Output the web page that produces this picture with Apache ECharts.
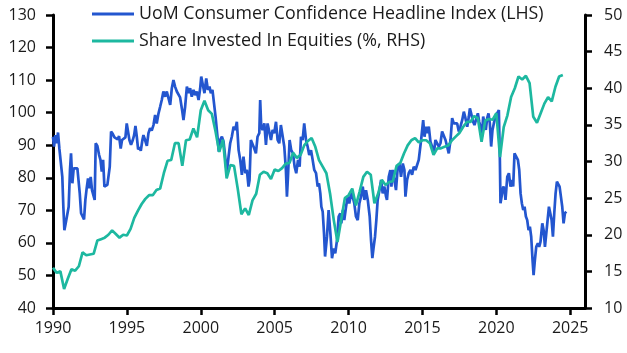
<!DOCTYPE html>
<html>
<head>
<meta charset="utf-8">
<script src="https://cdn.jsdelivr.net/npm/echarts@6/dist/echarts.min.js"></script>
<style>
html,body{margin:0;padding:0;background:#fff;}
#chart{width:627px;height:353px;}
</style>
</head>
<body>
<div id="chart"></div>
<script>
//----------------------------
//	data
//----------------------------
var xTicks = [1990, 1995, 2000, 2005, 2010, 2015, 2020, 2025];

var uomName   = 'UoM Consumer Confidence Headline Index (LHS)';
var shareName = 'Share Invested In Equities (%, RHS)';

// UoM headline index: [decimal year, index]
var uomSeries = [
	[1990.00,92.6],[1990.07,89.6],[1990.16,93.1],[1990.25,90.6],[1990.34,93.9],[1990.43,89.0],[1990.54,88.5],[1990.63,80.3],[1990.70,71.1],[1990.77,63.9],[1990.86,66.0],[1990.97,65.5],
	[1991.06,71.1],[1991.15,82.4],[1991.22,87.5],[1991.31,78.3],[1991.40,82.9],[1991.51,83.4],[1991.65,82.9],[1991.74,82.4],[1991.81,75.2],[1991.90,69.1],
	[1992.01,68.6],[1992.10,67.2],[1992.19,73.2],[1992.28,76.8],[1992.37,79.8],[1992.46,76.8],[1992.55,80.3],[1992.64,76.2],[1992.73,75.7],[1992.82,73.2],[1992.89,90.6],
	[1993.00,89.8],[1993.12,87.0],[1993.21,85.5],[1993.30,81.9],[1993.39,85.5],[1993.48,77.3],[1993.59,76.8],[1993.68,77.8],[1993.77,77.3],[1993.84,83.4],[1993.93,94.2],
	[1994.04,93.5],[1994.16,92.4],[1994.27,92.1],[1994.38,91.8],[1994.47,92.8],[1994.58,89.0],[1994.67,91.6],[1994.79,91.8],[1994.90,92.4],[1994.99,96.7],
	[1995.08,97.2],[1995.17,91.6],[1995.28,90.1],[1995.40,91.6],[1995.49,93.1],[1995.58,95.9],[1995.67,92.6],[1995.76,88.7],[1995.85,89.4],[1995.94,88.3],
	[1996.05,91.6],[1996.12,93.1],[1996.23,91.6],[1996.35,89.8],[1996.46,93.7],[1996.57,95.2],[1996.68,94.5],[1996.80,96.2],[1996.91,99.3],
	[1997.02,96.7],[1997.14,99.8],[1997.25,101.8],[1997.36,103.9],[1997.47,106.5],[1997.59,104.9],[1997.70,106.5],[1997.81,107.0],[1997.93,102.4],
	[1998.04,107.5],[1998.15,110.0],[1998.26,108.0],[1998.38,106.5],[1998.49,106.0],[1998.60,104.7],[1998.72,101.3],[1998.83,97.7],[1998.94,101.8],
	[1999.06,108.0],[1999.17,106.0],[1999.28,107.5],[1999.39,104.9],[1999.51,107.0],[1999.62,105.4],[1999.73,106.5],[1999.85,103.9],[1999.96,107.5],
	[2000.03,111.1],[2000.14,108.5],[2000.25,106.0],[2000.37,110.5],[2000.48,107.0],[2000.59,108.0],[2000.68,106.0],[2000.79,107.0],[2000.91,106.5],
	[2001.00,98.8],[2001.13,92.6],[2001.22,88.0],[2001.31,91.6],[2001.43,92.6],[2001.54,91.1],[2001.65,86.5],[2001.76,81.4],[2001.88,86.5],[2001.99,90.6],
	[2002.10,92.6],[2002.22,95.7],[2002.33,94.7],[2002.44,97.2],[2002.56,88.5],[2002.67,85.5],[2002.78,80.9],[2002.89,86.5],
	[2003.01,81.4],[2003.12,82.4],[2003.23,77.3],[2003.30,79.3],[2003.39,91.6],[2003.50,91.1],[2003.62,89.0],[2003.73,87.5],[2003.84,92.6],[2003.96,93.7],
	[2004.02,103.9],[2004.09,95.7],[2004.18,94.7],[2004.30,96.7],[2004.41,90.1],[2004.52,96.7],[2004.63,96.2],[2004.75,91.6],[2004.86,94.7],[2004.97,93.7],
	[2005.09,97.2],[2005.20,91.6],[2005.31,90.6],[2005.42,96.2],[2005.54,95.7],[2005.65,89.6],[2005.76,82.4],[2005.83,74.2],[2005.90,80.3],
	[2006.01,91.6],[2006.12,88.5],[2006.24,87.5],[2006.35,83.4],[2006.46,81.4],[2006.58,85.5],[2006.69,83.4],[2006.78,92.6],[2006.89,91.6],
	[2007.00,96.7],[2007.12,91.6],[2007.23,89.6],[2007.34,87.0],[2007.46,88.5],[2007.57,85.5],[2007.68,82.4],[2007.80,81.4],[2007.91,77.3],
	[2008.00,78.3],[2008.09,75.2],[2008.16,71.1],[2008.25,69.6],[2008.34,62.9],[2008.41,55.8],[2008.54,61.9],[2008.65,70.1],[2008.77,62.9],[2008.88,55.3],[2008.99,58.3],
	[2009.10,56.8],[2009.22,60.9],[2009.33,68.1],[2009.44,69.1],[2009.51,66.0],[2009.62,70.1],[2009.71,67.0],[2009.83,71.1],[2009.94,74.2],
	[2010.05,72.1],[2010.17,75.2],[2010.28,74.2],[2010.39,72.1],[2010.50,68.1],[2010.62,67.0],[2010.73,72.1],[2010.84,74.2],[2010.96,77.3],
	[2011.07,73.2],[2011.18,76.2],[2011.30,73.2],[2011.43,68.1],[2011.52,60.9],[2011.61,55.3],[2011.70,58.8],[2011.79,61.9],[2011.88,67.0],[2011.97,73.2],
	[2012.09,76.2],[2012.20,79.3],[2012.31,75.2],[2012.42,77.3],[2012.54,74.2],[2012.60,73.2],[2012.72,80.3],[2012.83,82.4],[2012.90,77.3],[2012.99,82.4],
	[2013.10,79.3],[2013.21,76.2],[2013.33,83.4],[2013.44,84.4],[2013.55,80.3],[2013.67,84.4],[2013.78,82.4],[2013.85,74.2],[2013.96,79.3],
	[2014.07,81.4],[2014.19,82.4],[2014.30,80.9],[2014.41,83.4],[2014.53,82.4],[2014.64,81.9],[2014.75,85.5],[2014.91,91.6],
	[2015.05,97.7],[2015.14,92.6],[2015.23,95.7],[2015.32,93.7],[2015.43,95.7],[2015.54,91.1],[2015.65,89.6],[2015.77,87.5],[2015.88,91.6],[2015.99,92.1],
	[2016.11,89.6],[2016.22,90.6],[2016.33,94.2],[2016.45,94.2],[2016.56,91.6],[2016.67,89.6],[2016.78,87.5],[2016.90,91.6],
	[2017.01,98.3],[2017.12,96.7],[2017.24,96.2],[2017.35,96.7],[2017.46,94.2],[2017.57,95.7],[2017.69,97.7],[2017.80,100.3],[2017.91,98.3],
	[2018.03,95.7],[2018.14,98.8],[2018.21,101.3],[2018.32,99.3],[2018.43,97.2],[2018.52,96.2],[2018.64,96.7],[2018.75,99.8],[2018.84,97.2],[2018.93,95.7],
	[2019.02,92.6],[2019.11,98.8],[2019.20,96.7],[2019.29,94.7],[2019.38,98.3],[2019.47,99.8],[2019.56,96.7],[2019.65,89.6],[2019.74,94.7],[2019.83,96.7],[2019.94,98.8],
	[2020.06,98.3],[2020.17,100.8],[2020.24,85.5],[2020.28,72.2],[2020.40,72.1],[2020.47,77.3],[2020.56,76.2],[2020.62,73.2],[2020.74,80.3],[2020.85,81.4],[2020.96,77.3],
	[2021.08,79.3],[2021.14,77.3],[2021.23,87.5],[2021.35,88.0],[2021.46,85.5],[2021.55,82.4],[2021.64,75.2],[2021.73,72.1],[2021.82,70.1],[2021.91,71.1],
	[2022.00,68.1],[2022.09,67.0],[2022.18,63.9],[2022.27,65.0],[2022.36,61.9],[2022.45,54.8],[2022.52,50.1],[2022.61,54.8],[2022.70,58.8],[2022.81,59.9],[2022.90,58.8],[2022.99,60.4],
	[2023.11,66.0],[2023.20,63.9],[2023.29,58.8],[2023.38,62.9],[2023.47,67.0],[2023.56,71.1],[2023.65,69.1],[2023.74,67.0],[2023.83,61.9],[2023.92,69.1],
	[2024.01,75.2],[2024.10,78.8],[2024.19,79.3],[2024.28,77.3],[2024.37,74.2],[2024.46,71.1],[2024.55,66.0],[2024.64,69.1],[2024.73,69.6]
];

// share invested in equities, %, quarter ends from end-1989 (plotted at 1990.0)
var shareStart = 1990.0;
var shareValues = [
	15.5, 14.8, 15.0, 12.6,
	14.0, 15.3, 15.1, 15.7,
	17.6, 17.2, 17.3, 17.4,
	19.2, 19.4, 19.6, 20.0,
	20.6, 20.1, 19.6, 20.0,
	19.9, 20.8, 22.3, 23.3,
	24.2, 24.9, 25.4, 25.4,
	26.1, 26.3, 28.4, 30.1,
	30.2, 32.5, 32.5, 29.4,
	32.9, 33.0, 34.5, 33.3,
	37.0, 38.3, 37.0, 36.5,
	34.1, 31.3, 33.0, 27.7,
	29.5, 29.4, 26.3, 22.8,
	23.6, 22.7, 24.7, 25.6,
	28.2, 28.6, 28.4, 27.6,
	28.9, 28.7, 29.1, 29.7,
	29.8, 31.2, 30.5, 30.9,
	32.2, 32.8, 33.2, 32.0,
	30.2, 29.3, 28.4, 25.6,
	22.0, 19.0, 22.0, 25.0,
	25.4, 26.3, 24.0, 25.9,
	27.9, 28.6, 28.2, 24.3,
	25.6, 27.5, 26.8, 27.2,
	27.3, 29.4, 29.8, 31.1,
	32.2, 32.9, 33.2, 32.6,
	32.9, 32.9, 32.5, 30.9,
	31.8, 31.8, 32.0, 32.2,
	32.9, 33.4, 33.9, 34.7,
	35.4, 35.4, 36.2, 35.9,
	32.7, 35.6, 35.8, 35.7,
	36.6, 30.6, 34.7, 36.3,
	38.8, 40.0, 41.6, 41.2,
	41.7, 40.7, 36.1, 35.3,
	36.6, 37.9, 38.8, 38.2,
	40.2, 41.6, 41.8
];

//----------------------------
//	chart
//----------------------------
var BLUE  = '#2356cf';
var TEAL  = '#1db8a0';
var FONT  = '"Open Sans", "Noto Sans", sans-serif';
var INK   = '#1a1a1a';

var shareSeries = [];
for (var i = 0; i < shareValues.length; i++) {
	shareSeries.push([shareStart + i * 0.25, shareValues[i]]);
}

var myChart = echarts.init(document.getElementById('chart'), null, {renderer: 'canvas'});

var axisLineStyle = {color: '#000', width: 3};
var tickStyle = {color: '#000', width: 2.5};

var option = {
	animation: false,
	backgroundColor: '#fff',
	color: [BLUE, TEAL],
	grid: {left: 53, right: 42, top: 15, bottom: 45},
	legend: {
		orient: 'vertical',
		left: 92,
		top: 4,
		padding: 0,
		icon: 'rect',
		itemWidth: 42,
		itemHeight: 3,
		itemGap: 7,
		textStyle: {fontFamily: FONT, fontSize: 17.8, color: INK, lineHeight: 20},
		data: [uomName, shareName]
	},
	xAxis: {
		type: 'value',
		min: 1990,
		max: 2026,
		interval: 5,
		axisLine: {show: true, onZero: false, lineStyle: axisLineStyle},
		axisTick: {show: true, inside: false, length: 7, lineStyle: tickStyle, customValues: xTicks},
		axisLabel: {
			margin: 12, fontFamily: FONT, fontSize: 16, color: INK, customValues: xTicks,
			formatter: function (v) { return String(v); }
		},
		splitLine: {show: false}
	},
	yAxis: [{
		type: 'value',
		position: 'left',
		min: 40,
		max: 130,
		interval: 10,
		axisLine: {show: true, lineStyle: axisLineStyle},
		axisTick: {show: true, length: 7, lineStyle: tickStyle},
		axisLabel: {margin: 17, fontFamily: FONT, fontSize: 16, color: INK},
		splitLine: {show: false}
	}, {
		type: 'value',
		position: 'right',
		min: 10,
		max: 50,
		interval: 5,
		axisLine: {show: true, lineStyle: axisLineStyle},
		axisTick: {show: true, length: 7, lineStyle: tickStyle},
		axisLabel: {margin: 19, fontFamily: FONT, fontSize: 16, color: INK},
		splitLine: {show: false}
	}],
	series: [{
		name: uomName,
		type: 'line',
		yAxisIndex: 0,
		data: uomSeries,
		showSymbol: false,
		lineStyle: {width: 2.7, color: BLUE}
	}, {
		name: shareName,
		type: 'line',
		yAxisIndex: 1,
		data: shareSeries,
		showSymbol: false,
		lineStyle: {width: 2.7, color: TEAL}
	}]
};

myChart.setOption(option);
</script>
</body>
</html>
